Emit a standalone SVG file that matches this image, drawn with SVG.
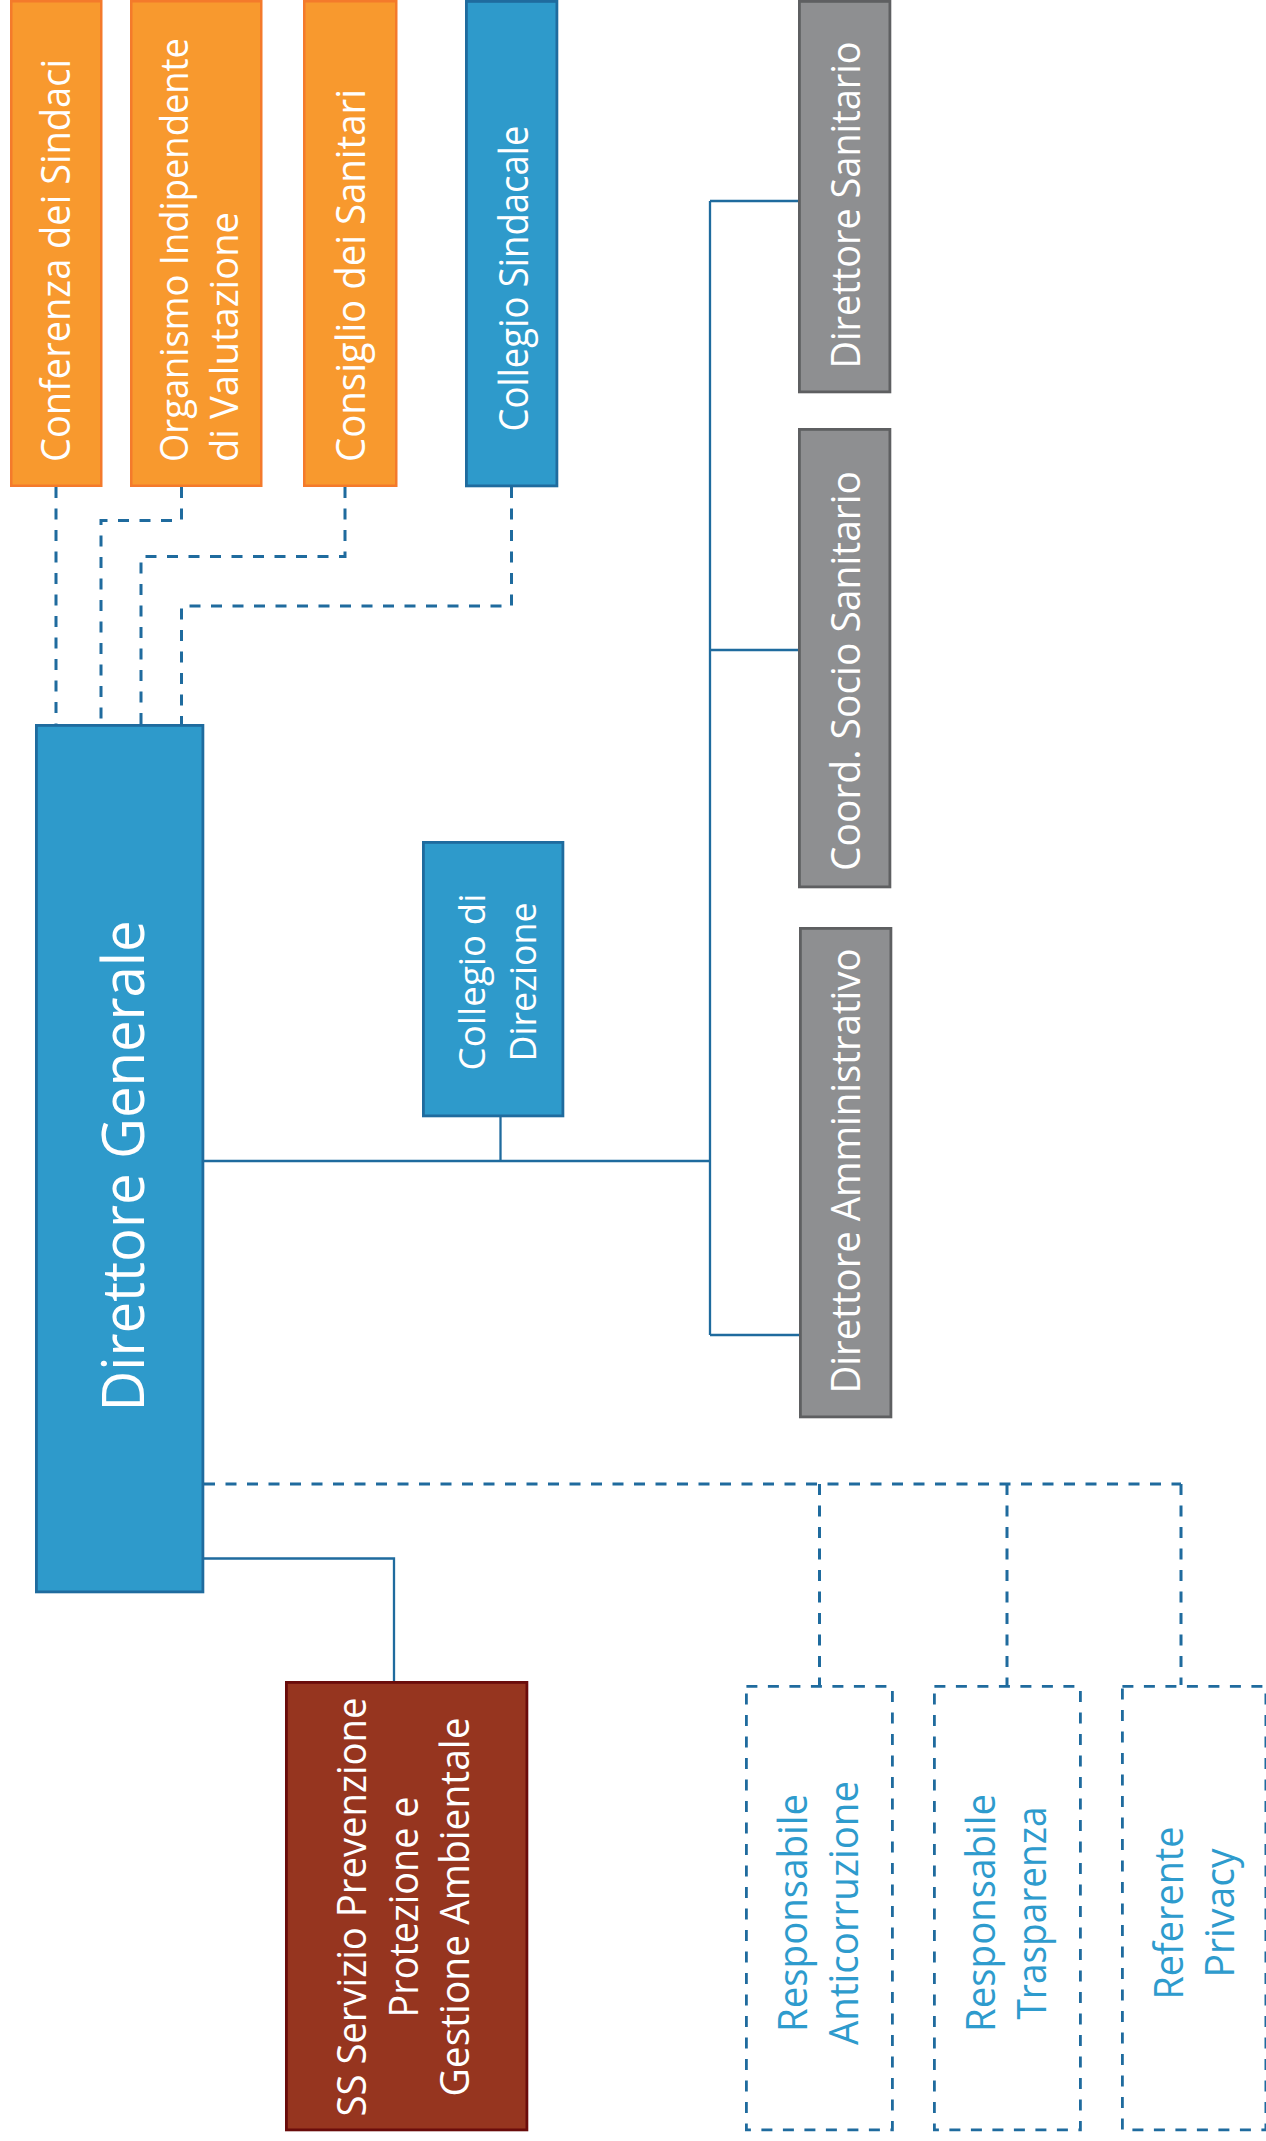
<svg xmlns="http://www.w3.org/2000/svg" width="1266" height="2141" viewBox="0 0 1266 2141">
<style>
  text { font-family: "Open Sans", "Noto Sans", "DejaVu Sans", sans-serif; font-size: 40px; }
  .w { fill: #ffffff; }
  .b { fill: #2e9bcd; }
  .orange { fill: #f8992e; stroke: #f47a2b; stroke-width: 2.5; }
  .blue { fill: #2e9acb; stroke: #1f6b9e; stroke-width: 2.8; }
  .gray { fill: #8e8f91; stroke: #5e5f61; stroke-width: 2.8; }
  .red { fill: #96351f; stroke: #6a0c0b; stroke-width: 2.8; }
  .dbox { fill: none; stroke: #1f6b9e; stroke-width: 2.8; stroke-dasharray: 11 10.5; }
  .solid { fill: none; stroke: #1f6b9e; stroke-width: 2.3; }
  .dash { fill: none; stroke: #1f6b9e; stroke-width: 3; stroke-dasharray: 11 10.5; }
</style>

<g id="connectors">
  <path class="dash" d="M56 487 V724"/>
  <path class="dash" d="M181.5 487 V520.5 H101 V724"/>
  <path class="dash" d="M345 487 V556.5 H141 V724"/>
  <path class="dash" d="M511.5 487 V606 H181.5 V724"/>
  <path class="solid" d="M204 1161 H710"/>
  <path class="solid" d="M500.5 1117 V1161"/>
  <path class="solid" d="M710 201 V1335"/>
  <path class="solid" d="M710 201 H798"/>
  <path class="solid" d="M710 650 H798"/>
  <path class="solid" d="M710 1335 H799"/>
  <path class="dash" d="M204 1484 H1181"/>
  <path class="dash" d="M819.5 1484 V1685"/>
  <path class="dash" d="M1007 1484 V1685"/>
  <path class="dash" d="M1181 1484 V1685"/>
  <path class="solid" d="M204 1558.5 H394 V1681"/>
</g>

<g id="conferenza-sindaci">
  <rect class="orange" x="11.25" y="1.25" width="90" height="484.5"/>
  <text class="w" transform="translate(0,462) rotate(-90)"><tspan x="0" y="70" textLength="403" lengthAdjust="spacingAndGlyphs">Conferenza dei Sindaci</tspan></text>
</g>

<g id="organismo-valutazione">
  <rect class="orange" x="131.25" y="1.25" width="130" height="484.5"/>
  <text class="w" style="font-size:38px" transform="translate(0,462) rotate(-90)"><tspan x="0" y="188" textLength="424" lengthAdjust="spacingAndGlyphs">Organismo Indipendente</tspan><tspan x="0" y="238" textLength="250" lengthAdjust="spacingAndGlyphs">di Valutazione</tspan></text>
</g>

<g id="consiglio-sanitari">
  <rect class="orange" x="304.25" y="1.25" width="92" height="484.5"/>
  <text class="w" transform="translate(0,462) rotate(-90)"><tspan x="0" y="365" textLength="373" lengthAdjust="spacingAndGlyphs">Consiglio dei Sanitari</tspan></text>
</g>

<g id="collegio-sindacale">
  <rect class="blue" x="466.4" y="1.4" width="90.5" height="484.5"/>
  <text class="w" text-anchor="middle" transform="translate(0,278.5) rotate(-90)"><tspan x="0" y="528" textLength="306" lengthAdjust="spacingAndGlyphs">Collegio Sindacale</tspan></text>
</g>

<g id="direttore-sanitario">
  <rect class="gray" x="799.4" y="1.4" width="90.5" height="390.5"/>
  <text class="w" text-anchor="middle" transform="translate(0,205) rotate(-90)"><tspan x="0" y="860" textLength="327" lengthAdjust="spacingAndGlyphs">Direttore Sanitario</tspan></text>
</g>

<g id="coord-socio-sanitario">
  <rect class="gray" x="799.4" y="429.4" width="90.5" height="457.5"/>
  <text class="w" text-anchor="middle" transform="translate(0,671) rotate(-90)"><tspan x="0" y="860" textLength="400" lengthAdjust="spacingAndGlyphs">Coord. Socio Sanitario</tspan></text>
</g>

<g id="direttore-amministrativo">
  <rect class="gray" x="800.4" y="928.4" width="90.5" height="488.5"/>
  <text class="w" text-anchor="middle" transform="translate(0,1171) rotate(-90)"><tspan x="0" y="860" textLength="445" lengthAdjust="spacingAndGlyphs">Direttore Amministrativo</tspan></text>
</g>

<g id="direttore-generale">
  <rect class="blue" x="36.4" y="725.4" width="166.5" height="866.5"/>
  <text class="w" text-anchor="middle" style="font-size:59px" transform="translate(0,1166) rotate(-90)"><tspan x="0" y="144" textLength="491" lengthAdjust="spacingAndGlyphs">Direttore Generale</tspan></text>
</g>

<g id="collegio-direzione">
  <rect class="blue" x="423.4" y="842.4" width="139.5" height="273.5"/>
  <text class="w" text-anchor="middle" style="font-size:37px" transform="translate(0,982) rotate(-90)"><tspan x="0" y="485" textLength="177" lengthAdjust="spacingAndGlyphs">Collegio di</tspan><tspan x="0" y="536" textLength="159" lengthAdjust="spacingAndGlyphs">Direzione</tspan></text>
</g>

<g id="ss-servizio-prevenzione">
  <rect class="red" x="286.4" y="1682.4" width="240.5" height="447.5"/>
  <text class="w" text-anchor="middle" transform="translate(0,1907) rotate(-90)"><tspan x="0" y="366" textLength="419" lengthAdjust="spacingAndGlyphs">SS Servizio Prevenzione</tspan><tspan x="0" y="418" textLength="221" lengthAdjust="spacingAndGlyphs">Protezione e</tspan><tspan x="0" y="469" textLength="379" lengthAdjust="spacingAndGlyphs">Gestione Ambientale</tspan></text>
</g>

<g id="responsabile-anticorruzione">
  <rect class="dbox" x="746.4" y="1686.4" width="146" height="443.5"/>
  <text class="b" text-anchor="middle" transform="translate(0,1913) rotate(-90)"><tspan x="0" y="807" textLength="238" lengthAdjust="spacingAndGlyphs">Responsabile</tspan><tspan x="0" y="858" textLength="264" lengthAdjust="spacingAndGlyphs">Anticorruzione</tspan></text>
</g>

<g id="responsabile-trasparenza">
  <rect class="dbox" x="934.4" y="1686.4" width="146" height="443.5"/>
  <text class="b" text-anchor="middle" transform="translate(0,1913) rotate(-90)"><tspan x="0" y="995" textLength="238" lengthAdjust="spacingAndGlyphs">Responsabile</tspan><tspan x="0" y="1046" textLength="213" lengthAdjust="spacingAndGlyphs">Trasparenza</tspan></text>
</g>

<g id="referente-privacy">
  <rect class="dbox" x="1122.4" y="1686.4" width="143.5" height="443.5"/>
  <text class="b" text-anchor="middle" transform="translate(0,1913) rotate(-90)"><tspan x="0" y="1183" textLength="173" lengthAdjust="spacingAndGlyphs">Referente</tspan><tspan x="0" y="1234" textLength="129" lengthAdjust="spacingAndGlyphs">Privacy</tspan></text>
</g>
</svg>
